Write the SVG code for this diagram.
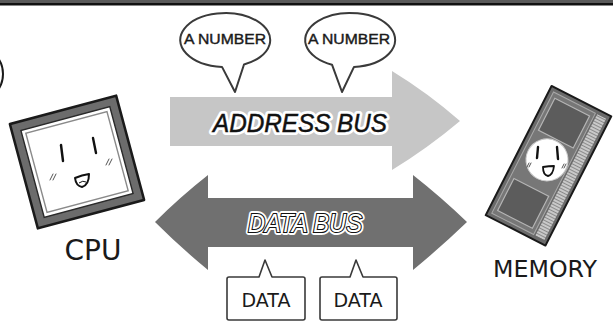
<svg xmlns="http://www.w3.org/2000/svg" width="613" height="329" viewBox="0 0 613 329">
  <style>
    .bubble { fill: #ffffff; stroke: #3a3a3a; stroke-width: 2; stroke-linejoin: round; }
    .callout { fill: #ffffff; stroke: #3a3a3a; stroke-width: 1.6; stroke-linejoin: round; }
    .bubble-text { font-family: "Liberation Sans", Arial, sans-serif; font-size: 14px; fill: #1a1a1a; stroke: #1a1a1a; stroke-width: 0.4; text-anchor: middle; }
    .box-text { font-family: "DejaVu Sans", "Liberation Sans", sans-serif; font-size: 19px; fill: #1a1a1a; text-anchor: middle; }
    .bus-label { font-family: "Liberation Sans", Arial, sans-serif; font-size: 25px; font-style: italic; text-anchor: middle; }
    .halo { fill: #ffffff; stroke: #ffffff; stroke-width: 6; stroke-linejoin: round; }
    .ink { stroke: #111111; stroke-width: 2.4; stroke-linecap: round; fill: none; }
    .blush { stroke: #555555; stroke-width: 1; stroke-linecap: round; fill: none; }
    .caption { font-family: "DejaVu Sans", "Liberation Sans", sans-serif; fill: #1a1a1a; text-anchor: middle; }
  </style>
  <defs>
    <pattern id="ridges" width="4" height="3" patternUnits="userSpaceOnUse">
      <rect width="4" height="3" fill="#c9c9c9"/>
      <rect y="2" width="4" height="1" fill="#8a8a8a"/>
    </pattern>
  </defs>

  <rect width="613" height="329" fill="#ffffff"/>

  <!-- panel frame along the top -->
  <rect x="0" y="0" width="613" height="3" fill="#5a5a5a"/>
  <rect x="0" y="3" width="613" height="2.5" fill="#111111"/>

  <!-- edge of a neighbouring bubble -->
  <ellipse cx="-21" cy="74" rx="24" ry="26" fill="none" stroke="#1a1a1a" stroke-width="2"/>

  <g id="connectors">
    <!-- address bus: one-way, CPU to memory -->
    <g id="address-bus">
      <path d="M170,97 L392,97 L392,71 Q428,93 460,121 Q428,148 392,170 L392,146 L170,146 Z" fill="#c6c6c6"/>
      <text class="bus-label halo" x="300" y="132" textLength="174" lengthAdjust="spacingAndGlyphs">ADDRESS BUS</text>
      <text class="bus-label" x="300" y="132" textLength="174" lengthAdjust="spacingAndGlyphs" fill="#111111" stroke="#111111" stroke-width="0.5">ADDRESS BUS</text>
    </g>
    <!-- data bus: two-way -->
    <g id="data-bus">
      <path d="M155,222 Q180,197 208,175 L208,198 L413,198 L413,175 Q441,197 467,222 Q441,247 413,270 L413,247 L208,247 L208,270 Q180,247 155,222 Z" fill="#707070"/>
      <text class="bus-label halo" x="305" y="232" textLength="114" lengthAdjust="spacingAndGlyphs">DATA BUS</text>
      <text class="bus-label" x="305" y="232" textLength="114" lengthAdjust="spacingAndGlyphs" fill="#ffffff" stroke="#111111" stroke-width="2.2" paint-order="stroke">DATA BUS</text>
    </g>
  </g>

  <!-- speech bubbles above the address bus -->
  <g id="number-1">
    <path class="bubble" d="M222,66.9 A45,27 0 1 1 244,64.5 L235,92 Z"/>
    <text class="bubble-text" x="225" y="44" textLength="82" lengthAdjust="spacingAndGlyphs">A NUMBER</text>
  </g>
  <g id="number-2">
    <path class="bubble" d="M332,64.7 A45,27 0 1 1 354,66.9 L342,92 Z"/>
    <text class="bubble-text" x="349" y="44" textLength="82" lengthAdjust="spacingAndGlyphs">A NUMBER</text>
  </g>

  <!-- callouts below the data bus -->
  <g id="data-1">
    <path class="callout" d="M229,277 L259,277 L265,260 L272,277 L303,277 Q305,277 305,279 L305,318 Q305,320 303,320 L229,320 Q227,320 227,318 L227,279 Q227,277 229,277 Z"/>
    <text class="box-text" x="266" y="307">DATA</text>
  </g>
  <g id="data-2">
    <path class="callout" d="M322,277 L350,277 L356,260 L363,277 L395,277 Q397,277 397,279 L397,318 Q397,320 395,320 L322,320 Q320,320 320,318 L320,279 Q320,277 322,277 Z"/>
    <text class="box-text" x="358" y="307">DATA</text>
  </g>

  <!-- CPU chip with a face -->
  <g id="cpu">
    <g transform="translate(77,162) rotate(-15)">
      <rect x="-55" y="-54" width="110" height="108" fill="#6c6c6c" stroke="#1a1a1a" stroke-width="2.5" stroke-linejoin="round"/>
      <rect x="-46" y="-45" width="92" height="90" fill="#ffffff" stroke="#2a2a2a" stroke-width="1.4"/>
      <rect x="-42" y="-41" width="84" height="82" fill="#ffffff" stroke="#8a8a8a" stroke-width="1.4"/>
    </g>
    <path class="ink" d="M61,145 L63,161"/>
    <path class="ink" d="M93,138 L96,153"/>
    <path d="M75,178 Q82,175 89,174 Q89,185 82,187 Q76,186 75,178 Z" fill="#ffffff" stroke="#111111" stroke-width="2" stroke-linejoin="round"/>
    <path d="M79,183 Q83,180 86,182" fill="none" stroke="#111111" stroke-width="1"/>
    <path class="blush" d="M50,180 L53,174 M53,180 L56,174"/>
    <path class="blush" d="M106,165 L109,159 M109,165 L112,159"/>
    <text class="caption" x="93" y="260" font-size="28">CPU</text>
  </g>

  <!-- memory module with a face -->
  <g id="memory">
    <g transform="translate(548.5,165.75) rotate(27)">
      <rect x="-33.5" y="-72.5" width="67" height="145" fill="#6a6a6a" stroke="#1a1a1a" stroke-width="2" stroke-linejoin="round"/>
      <rect x="20" y="-68" width="10" height="136" fill="url(#ridges)"/>
      <rect x="-29" y="-68" width="47" height="136" fill="#777777" stroke="#a8a8a8" stroke-width="1"/>
      <rect x="-25" y="-63" width="39" height="36" fill="#5c5c5c" stroke="#b5b5b5" stroke-width="1.2"/>
      <rect x="-25" y="27" width="39" height="36" fill="#5c5c5c" stroke="#b5b5b5" stroke-width="1.2"/>
      <circle cx="-4" cy="-4.5" r="21" fill="#ffffff" stroke="#cccccc" stroke-width="1"/>
    </g>
    <path class="ink" d="M538,147 L537,158" stroke-width="2"/>
    <path class="ink" d="M557,147 L558,159" stroke-width="2"/>
    <path d="M543,167 Q549,166 554,166 Q553,175 548,176 Q543,175 543,167 Z" fill="#ffffff" stroke="#111111" stroke-width="1.8" stroke-linejoin="round"/>
    <path class="blush" d="M527,167 L529,163 M529,167 L531,163"/>
    <path class="blush" d="M562,168 L564,164 M564,168 L566,164"/>
    <text class="caption" x="545" y="277" font-size="23" textLength="104" lengthAdjust="spacingAndGlyphs">MEMORY</text>
  </g>
</svg>
